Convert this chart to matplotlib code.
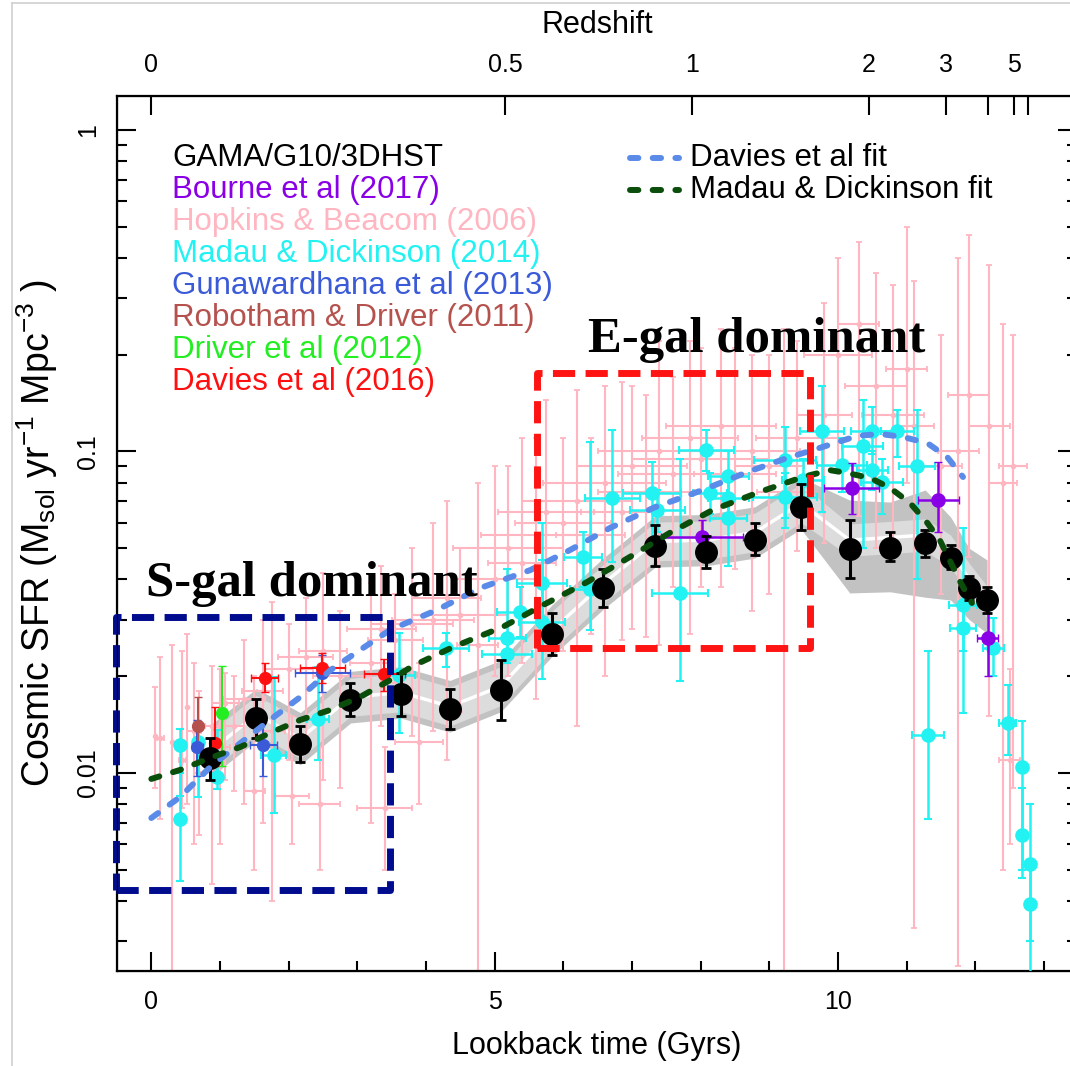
import matplotlib
matplotlib.use('Agg')
import matplotlib.pyplot as plt
from matplotlib import font_manager
from matplotlib.lines import Line2D
import numpy as np

plt.rcParams['font.family'] = ['Liberation Sans', 'DejaVu Sans']
plt.rcParams['mathtext.fontset'] = 'custom'
plt.rcParams['mathtext.rm'] = 'Liberation Sans'
plt.rcParams['mathtext.it'] = 'Liberation Sans:italic'

# the reference is squeezed sideways, a narrow face copies that if it is there
try:
    font_manager.findfont('Liberation Sans Narrow', fallback_to_default=False)
    NARROW = ['Liberation Sans Narrow', 'Liberation Sans', 'DejaVu Sans']
    squeeze = 1 / 0.82
except ValueError:
    NARROW = ['Liberation Sans', 'DejaVu Sans']
    squeeze = 1.0

# GAMA/G10/3DHST points (lookback time in Gyr, SFR density)
gama_x = [0.86, 1.53, 2.17, 2.90, 3.64, 4.35, 5.09, 5.84, 6.58, 7.34,
          8.08, 8.79, 9.46, 10.17, 10.76, 11.27, 11.64, 11.91, 12.17]
gama_y = [0.0111, 0.0148, 0.0123, 0.0169, 0.0176, 0.0158, 0.0181, 0.0270, 0.0376, 0.0508,
          0.0487, 0.0531, 0.0671, 0.0498, 0.0501, 0.0519, 0.0467, 0.0376, 0.0345]
gama_lo = [0.0095, 0.0128, 0.0108, 0.0150, 0.0150, 0.0137, 0.0146, 0.0232, 0.0329, 0.0440,
           0.0435, 0.0475, 0.0570, 0.0405, 0.0455, 0.0470, 0.0430, 0.0345, 0.0315]
gama_hi = [0.0128, 0.0170, 0.0140, 0.0190, 0.0205, 0.0182, 0.0225, 0.0315, 0.0430, 0.0590,
           0.0545, 0.0600, 0.0790, 0.0610, 0.0560, 0.0570, 0.0510, 0.0410, 0.0380]

# grey band around the GAMA points
band_mid = [0.0117, 0.0152, 0.0128, 0.0172, 0.0178, 0.0161, 0.0186, 0.0278, 0.0388, 0.0525,
            0.0530, 0.0560, 0.0690, 0.0530, 0.0540, 0.0550, 0.0490, 0.0400, 0.0340]
band_in_lo = [0.0102, 0.0132, 0.0111, 0.0150, 0.0155, 0.0140, 0.0162, 0.0242, 0.0338, 0.0457,
              0.0462, 0.0488, 0.0601, 0.0472, 0.0481, 0.0490, 0.0437, 0.0357, 0.0303]
band_in_hi = [0.0134, 0.0174, 0.0147, 0.0197, 0.0204, 0.0185, 0.0214, 0.0319, 0.0445, 0.0603,
              0.0608, 0.0643, 0.0792, 0.0595, 0.0606, 0.0617, 0.0550, 0.0449, 0.0381]
band_out_lo = [0.0097, 0.0126, 0.0106, 0.0143, 0.0148, 0.0134, 0.0155, 0.0231, 0.0323, 0.0437,
               0.0441, 0.0466, 0.0574, 0.0363, 0.0366, 0.0352, 0.0345, 0.0300, 0.0272]
band_out_hi = [0.0141, 0.0183, 0.0154, 0.0207, 0.0214, 0.0194, 0.0224, 0.0334, 0.0466, 0.0631,
               0.0637, 0.0673, 0.0829, 0.0706, 0.0696, 0.0759, 0.0625, 0.0500, 0.0460]

# Hopkins & Beacom (2006)
hb_x = [0.05, 0.13, 0.30, 0.45, 0.52, 0.62, 0.70, 0.88, 1.00, 1.08, 1.20, 1.35, 1.50, 1.62,
        1.75, 2.05, 2.00, 2.25, 2.50, 2.75, 2.45, 3.40, 3.20, 3.35, 3.55, 3.80, 3.90, 4.10,
        4.30, 4.50, 4.75, 5.00, 5.20, 5.40, 5.60, 5.75, 6.00, 6.20, 6.40, 6.60, 6.85, 7.00,
        7.20, 7.40, 7.60, 7.85, 8.00, 8.30, 8.50, 8.75, 9.00, 9.22, 9.40, 9.80, 10.00, 10.30,
        10.55, 10.80, 11.00, 11.10, 11.50, 11.75, 11.90, 12.20, 12.40, 12.55, 12.50]
hb_xerr = [0.00, 0.05, 0.00, 0.05, 0.00, 0.10, 0.08, 0.10, 0.15, 0.20, 0.15, 0.30, 0.15, 0.30,
           0.20, 0.25, 0.35, 0.40, 0.35, 0.40, 0.30, 0.40, 0.30, 0.50, 0.40, 0.60, 0.35, 0.60,
           0.50, 0.70, 0.30, 0.60, 0.80, 0.50, 0.80, 0.70, 0.70, 0.80, 0.50, 0.90, 0.60, 0.80,
           0.70, 0.90, 0.80, 0.70, 1.00, 0.80, 0.60, 0.70, 0.50, 0.40, 0.60, 0.40, 0.50, 0.30,
           0.45, 0.45, 0.30, 0.30, 0.30, 0.30, 0.30, 0.30, 0.20, 0.20, 0.15]
hb_y = [0.0130, 0.0128, 0.0125, 0.0110, 0.0160, 0.0135, 0.0100, 0.0140, 0.0120, 0.0165, 0.0140,
        0.0170, 0.0088, 0.0180, 0.0135, 0.0085, 0.0210, 0.0230, 0.0240, 0.0200, 0.0080, 0.0078,
        0.0220, 0.0280, 0.0260, 0.0290, 0.0125, 0.0300, 0.0350, 0.0310, 0.0250, 0.0400, 0.0500,
        0.0450, 0.0550, 0.0650, 0.0600, 0.0700, 0.0550, 0.0800, 0.0650, 0.0900, 0.0750, 0.1000,
        0.0850, 0.1100, 0.0950, 0.1200, 0.0850, 0.1000, 0.0900, 0.0750, 0.1100, 0.1300, 0.2000,
        0.2500, 0.1600, 0.1300, 0.1800, 0.1200, 0.0900, 0.1000, 0.1500, 0.1200, 0.0800, 0.0900,
        0.0110]
hb_lo = [0.0090, 0.0072, 0.0010, 0.0078, 0.0080, 0.0060, 0.0064, 0.0045, 0.0060, 0.0095, 0.0088,
         0.0080, 0.0050, 0.0070, 0.0040, 0.0060, 0.0110, 0.0130, 0.0095, 0.0090, 0.0050, 0.0050,
         0.0070, 0.0140, 0.0190, 0.0130, 0.0080, 0.0135, 0.0110, 0.0155, 0.0010, 0.0200, 0.0200,
         0.0220, 0.0170, 0.0290, 0.0240, 0.0140, 0.0270, 0.0200, 0.0260, 0.0280, 0.0265, 0.0250,
         0.0380, 0.0270, 0.0380, 0.0380, 0.0430, 0.0320, 0.0360, 0.0010, 0.0490, 0.0520, 0.0900,
         0.0630, 0.0500, 0.0520, 0.0800, 0.0033, 0.0360, 0.0025, 0.0470, 0.0150, 0.0050, 0.0090,
         0.0060]
hb_hi = [0.0185, 0.0230, 0.0250, 0.0240, 0.0270, 0.0220, 0.0180, 0.0215, 0.0210, 0.0205, 0.0200,
         0.0260, 0.0200, 0.0300, 0.0340, 0.0150, 0.0290, 0.0350, 0.0420, 0.0320, 0.0120, 0.0120,
         0.0390, 0.0440, 0.0360, 0.0500, 0.0220, 0.0600, 0.0700, 0.0500, 0.0800, 0.0900, 0.0900,
         0.1100, 0.1100, 0.1450, 0.1100, 0.1550, 0.1100, 0.1600, 0.1650, 0.1600, 0.1500, 0.2200,
         0.1700, 0.2200, 0.2100, 0.2400, 0.2100, 0.2000, 0.2000, 0.2400, 0.2200, 0.2900, 0.4000,
         0.4500, 0.3600, 0.3300, 0.5000, 0.3400, 0.2300, 0.4000, 0.4700, 0.3800, 0.2500, 0.2300,
         0.0210]

# Madau & Dickinson (2014) compilation
md_x = [0.42, 0.42, 0.96, 0.68, 1.78, 2.43, 3.60, 4.29, 5.18, 5.18, 5.37, 5.69, 5.69, 6.29,
        6.39, 6.71, 7.29, 7.37, 7.70, 8.08, 8.14, 8.40, 8.40, 8.40, 9.23, 9.23, 9.49, 9.77,
        10.06, 10.36, 10.50, 10.86, 10.50, 10.64, 11.15, 11.82, 11.82, 12.26, 11.31, 12.47,
        12.68, 12.68, 12.80, 12.80]
md_xerr = [0.05, 0.05, 0.06, 0.05, 0.18, 0.16, 0.24, 0.33, 0.27, 0.36, 0.33, 0.34, 0.37, 0.28,
           0.30, 0.40, 0.42, 0.40, 0.41, 0.40, 0.25, 0.30, 0.30, 0.27, 0.45, 0.47, 0.30, 0.32,
           0.36, 0.30, 0.31, 0.24, 0.23, 0.30, 0.26, 0.20, 0.19, 0.15, 0.23, 0.12, 0.05, 0.05,
           0.05, 0.05]
md_y = [0.0122, 0.0072, 0.0097, 0.0125, 0.0114, 0.0147, 0.0202, 0.0245, 0.0263, 0.0235, 0.0316,
        0.0295, 0.0390, 0.0469, 0.0373, 0.0716, 0.0743, 0.0656, 0.0363, 0.1010, 0.0743, 0.0837,
        0.0716, 0.0620, 0.0940, 0.0722, 0.0815, 0.1160, 0.0906, 0.1040, 0.1160, 0.1160, 0.0875,
        0.0805, 0.0900, 0.0334, 0.0282, 0.0245, 0.0131, 0.0143, 0.0104, 0.0064, 0.0052, 0.0039]
md_lo = [0.0085, 0.0046, 0.0089, 0.0084, 0.0075, 0.0110, 0.0133, 0.0214, 0.0235, 0.0219, 0.0265,
         0.0196, 0.0330, 0.0380, 0.0278, 0.0454, 0.0520, 0.0560, 0.0193, 0.0870, 0.0640, 0.0700,
         0.0620, 0.0440, 0.0580, 0.0620, 0.0690, 0.0650, 0.0750, 0.0500, 0.0980, 0.0960, 0.0760,
         0.0640, 0.0400, 0.0154, 0.0240, 0.0200, 0.0072, 0.0114, 0.0047, 0.0050, 0.0030, 0.0020]
md_hi = [0.0137, 0.0100, 0.0136, 0.0140, 0.0199, 0.0214, 0.0273, 0.0273, 0.0430, 0.0255, 0.0380,
         0.0600, 0.0460, 0.0560, 0.1070, 0.1170, 0.0930, 0.0760, 0.0950, 0.1170, 0.0860, 0.1000,
         0.0820, 0.0740, 0.1190, 0.0860, 0.0950, 0.1600, 0.1100, 0.1450, 0.1380, 0.1350, 0.1000,
         0.0950, 0.1350, 0.0580, 0.0330, 0.0303, 0.0240, 0.0188, 0.0145, 0.0090, 0.0080, 0.0052]

# Bourne et al (2017)
bourne_x = [8.02, 10.20, 11.46, 12.18]
bourne_xerr = [0.60, 0.40, 0.30, 0.15]
bourne_y = [0.0542, 0.0769, 0.0706, 0.0263]
bourne_lo = [0.0480, 0.0640, 0.0560, 0.0200]
bourne_hi = [0.0610, 0.0920, 0.0930, 0.0360]

# Gunawardhana et al (2013)
gun_x = [0.67, 1.63, 2.49]
gun_xerr = [0.08, 0.20, 0.40]
gun_y = [0.0120, 0.0122, 0.0205]
gun_lo = [0.0098, 0.0098, 0.0178]
gun_hi = [0.0146, 0.0146, 0.0232]

# Robotham & Driver (2011), Driver et al (2012)
rob_x = [0.68]
rob_y = [0.0140]
rob_lo = [0.0118]
rob_hi = [0.0172]
dri_x = [1.03]
dri_y = [0.0154]
dri_lo = [0.0105]
dri_hi = [0.0215]

# Davies et al (2016)
dav_x = [0.93, 1.65, 2.49, 3.39]
dav_xerr = [0.05, 0.20, 0.33, 0.30]
dav_y = [0.0124, 0.0197, 0.0212, 0.0203]
dav_lo = [0.0105, 0.0178, 0.0190, 0.0180]
dav_hi = [0.0160, 0.0220, 0.0236, 0.0226]

# fits
dfit_x = [0.00, 0.42, 0.86, 1.30, 1.73, 2.17, 2.61, 3.04, 3.48, 4.16, 4.79, 5.52, 6.10, 6.68,
          7.31, 8.03, 8.68, 9.26, 9.69, 10.28, 10.61, 10.95, 11.30, 11.59, 11.82]
dfit_y = [0.00724, 0.00842, 0.01044, 0.01240, 0.01463, 0.01723, 0.02090, 0.02413, 0.02788,
          0.03214, 0.03761, 0.04277, 0.04940, 0.05783, 0.06675, 0.07590, 0.08630, 0.09545,
          0.1019, 0.1118, 0.1134, 0.1109, 0.1062, 0.0961, 0.0833]
mfit_x = [0.00, 0.42, 0.86, 1.30, 1.73, 2.17, 2.61, 3.04, 3.48, 3.81, 4.40, 5.12, 5.71, 6.35,
          6.97, 7.55, 8.18, 8.86, 9.49, 9.88, 10.13, 10.47, 10.76, 11.05, 11.30, 11.48, 11.78,
          11.95]
mfit_y = [0.00958, 0.01022, 0.01114, 0.01205, 0.01332, 0.01462, 0.01572, 0.01723, 0.01946,
          0.02153, 0.02467, 0.02847, 0.03333, 0.03929, 0.04699, 0.05582, 0.06583, 0.07483,
          0.08333, 0.08750, 0.08570, 0.08271, 0.07697, 0.06911, 0.05995, 0.05311, 0.03929,
          0.03379]

# redshift axis: tick positions in lookback time
z_pos = [0.0, 5.15, 7.87, 10.45, 11.57, 12.18, 12.56, 12.76]
z_labels = ['0', '0.5', '1', '2', '3', '', '5', '']

legend_names = ['GAMA/G10/3DHST', 'Bourne et al (2017)', 'Hopkins & Beacom (2006)',
                'Madau & Dickinson (2014)', 'Gunawardhana et al (2013)',
                'Robotham & Driver (2011)', 'Driver et al (2012)', 'Davies et al (2016)']
legend_colors = ['black', '#8a00e6', '#ffb6c1', '#22f2f2', '#3a5ad8', '#b5524e', '#22ee22', '#ff1010']

PINK = '#ffb6c1'
CYAN = '#22f2f2'
DFIT = '#5b8be8'
MFIT = '#0b4d0b'
FIT_DASH = (1.4, 2.4)


def asym(y, lo, hi):
    y = np.asarray(y)
    return [y - np.asarray(lo), np.asarray(hi) - y]


fig = plt.figure(figsize=(10.7, 10.66), dpi=100)
ax = fig.add_axes([117 / 1070, 95 / 1066, 960 / 1070, 875 / 1066])
ax.set_yscale('log')
ax.set_xlim(-0.5, 13.48)
ax.set_ylim(0.00242, 1.276)

# grey band
ax.fill_between(gama_x, band_out_lo, band_out_hi, color='#c2c2c2', lw=0, zorder=1)
ax.fill_between(gama_x, band_in_lo, band_in_hi, color='#dcdcdc', lw=0, zorder=1.1)
ax.plot(gama_x, band_mid, color='white', lw=2.5, zorder=1.2)

ax.errorbar(hb_x, hb_y, yerr=asym(hb_y, hb_lo, hb_hi), xerr=hb_xerr, fmt='o', ms=3,
            color=PINK, ecolor=PINK, elinewidth=1.5, capsize=2.5, capthick=1.3, zorder=2)
ax.errorbar(md_x, md_y, yerr=asym(md_y, md_lo, md_hi), xerr=md_xerr, fmt='o', ms=9.5,
            color=CYAN, ecolor=CYAN, elinewidth=1.8, capsize=3, capthick=1.5, zorder=3)
ax.errorbar(gun_x, gun_y, yerr=asym(gun_y, gun_lo, gun_hi), xerr=gun_xerr, fmt='o', ms=8.5,
            color='#3a5ad8', elinewidth=1.5, capsize=3, zorder=3.2)
ax.errorbar(rob_x, rob_y, yerr=asym(rob_y, rob_lo, rob_hi), fmt='o', ms=8.5,
            color='#b5524e', elinewidth=1.5, capsize=3, zorder=3.2)
ax.errorbar(dri_x, dri_y, yerr=asym(dri_y, dri_lo, dri_hi), fmt='o', ms=8.5,
            color='#22ee22', elinewidth=1.5, capsize=3, zorder=3.2)
ax.errorbar(dav_x, dav_y, yerr=asym(dav_y, dav_lo, dav_hi), xerr=dav_xerr, fmt='o', ms=8.5,
            color='#ff1010', elinewidth=1.5, capsize=3, zorder=3.3)
ax.errorbar(bourne_x, bourne_y, yerr=asym(bourne_y, bourne_lo, bourne_hi), xerr=bourne_xerr,
            fmt='o', ms=9.5, color='#8a00e6', elinewidth=1.8, capsize=3, zorder=3.4)
ax.errorbar(gama_x, gama_y, yerr=asym(gama_y, gama_lo, gama_hi), fmt='o', ms=15.5,
            color='black', elinewidth=2.2, capsize=3.5, capthick=2, zorder=4)

ax.plot(dfit_x, dfit_y, color=DFIT, lw=4.3, dashes=FIT_DASH, dash_capstyle='round', zorder=5)
ax.plot(mfit_x, mfit_y, color=MFIT, lw=4.3, dashes=FIT_DASH, dash_capstyle='round', zorder=5)

# highlight boxes
for (x0, x1, y0, y1, col) in [(-0.52, 3.48, 0.00433, 0.0305, '#000c8e'),
                              (5.62, 9.59, 0.0245, 0.1754, '#ff1414')]:
    ax.plot([x0, x1, x1, x0, x0], [y0, y0, y1, y1, y0], color=col, lw=5,
            dashes=(3.2, 1.5), solid_joinstyle='round', dash_joinstyle='round', zorder=6,
            clip_on=False)

ax.text(8.82, 0.204, 'E-gal dominant', family=['Liberation Serif', 'DejaVu Serif'],
        fontsize=36.5, fontweight='bold', ha='center', va='baseline', zorder=7)
ax.text(2.34, 0.0356, 'S-gal dominant', family=['Liberation Serif', 'DejaVu Serif'],
        fontsize=36.5, fontweight='bold', ha='center', va='baseline', zorder=7)

# legend text
for i, (name, col) in enumerate(zip(legend_names, legend_colors)):
    ax.text(0.0573, 0.929 - i * 0.0366, name, color=col, fontsize=22.5 * squeeze,
            family=NARROW, transform=ax.transAxes, va='center', ha='left')
for i, (name, col) in enumerate([('Davies et al fit', DFIT), ('Madau & Dickinson fit', MFIT)]):
    yy = 0.929 - i * 0.0366
    ax.add_line(Line2D([0.534, 0.585], [yy, yy], transform=ax.transAxes, color=col, lw=4.3,
                       dashes=FIT_DASH, dash_capstyle='round'))
    ax.text(0.597, yy, name, color='black', fontsize=22.5 * squeeze, family=NARROW,
            transform=ax.transAxes, va='center', ha='left')

# axes styling
ax.set_xticks([0, 5, 10])
ax.set_xticks(range(1, 14), minor=True)
ax.set_xticklabels(['0', '5', '10'], family=NARROW, fontsize=18 * squeeze)
ax.set_yticks([0.01, 0.1, 1])
ax.set_yticklabels(['0.01', '0.1', '1'], rotation=90, va='center', fontsize=18)
ax.tick_params(which='both', direction='in', top=False, right=True, width=1.5)
ax.tick_params(which='major', length=14, pad=14)
ax.tick_params(which='minor', length=7)
ax.tick_params(axis='y', which='major', pad=12)
for sp in ax.spines.values():
    sp.set_linewidth(1.6)
ax.set_xlabel('Lookback time (Gyrs)', fontsize=22 * squeeze, family=NARROW, labelpad=12)
ax.set_ylabel('Cosmic SFR (M$_{\\rm sol}$ yr$^{-1}$ Mpc$^{-3}$ )', fontsize=27, labelpad=12)

ax2 = ax.twiny()
ax2.set_xlim(ax.get_xlim())
ax2.set_xticks(z_pos)
ax2.set_xticklabels(z_labels, family=NARROW, fontsize=18 * squeeze)
ax2.tick_params(direction='in', length=14, width=1.5, pad=14)
ax2.set_xlabel('Redshift', fontsize=22 * squeeze, family=NARROW, labelpad=14)

# faint frame from the screenshot
fig.add_artist(Line2D([12 / 1070, 1], [1 - 3 / 1066, 1 - 3 / 1066], color='#d0d0d0', lw=1.2))
fig.add_artist(Line2D([12 / 1070, 12 / 1070], [0, 1 - 3 / 1066], color='#d0d0d0', lw=1.2))

fig.savefig('out.png', dpi=100)
